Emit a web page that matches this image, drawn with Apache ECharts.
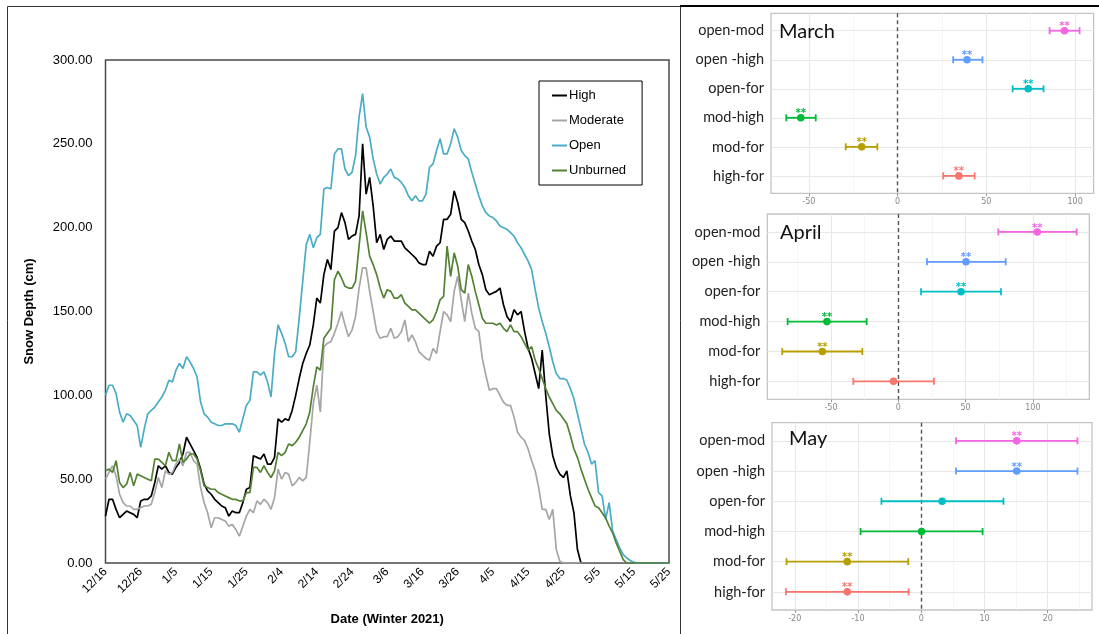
<!DOCTYPE html>
<html><head><meta charset="utf-8">
<script src="https://cdn.jsdelivr.net/npm/echarts@6/dist/echarts.min.js"></script>
<style>html,body{margin:0;padding:0;background:#fff}#c{width:1099px;height:634px}</style>
</head><body><div id="c"></div>
<script>
// ---------- Left chart data (daily, 12/16 .. 5/25) ----------
const tickLabels = ['12/16','12/26','1/5','1/15','1/25','2/4','2/14','2/24','3/6','3/16','3/26','4/5','4/15','4/25','5/5','5/15','5/25'];
const seriesNames = ['High','Moderate','Open','Unburned'];
const high = [
28,38,38,32,27,29,31,30,29,27,
37,38,38,40,48,58,56,58,54,53,
57,60,65,75,71,67,63,56,47,43,
41,38,36,34,33,28,31,30,30,36,
44,45,64,63,62,65,59,59,63,86,
84,86,85,91,100,110,119,125,130,142,
158,155,172,181,175,198,200,209,203,193,
195,196,207,250,220,230,213,191,196,187,
193,195,192,192,192,188,186,184,182,179,
178,178,186,183,189,191,205,205,208,222,
215,205,203,198,192,187,178,172,163,160,
161,162,164,154,147,144,151,148,150,138,
128,122,113,104,127,100,77,64,57,53,
51,55,40,30,8,0,0,0,0,0,
0,0,0,0,0,0,0,0,0,0,
0,0,0,0,0,0,0,0,0,0,0];
const moderate = [
50,54,58,52,41,36,34,34,32,32,
33,34,34,35,42,51,45,55,53,54,
59,62,58,66,66,61,59,45,36,30,
21,27,27,26,25,22,23,20,16,22,
28,32,30,37,35,38,36,32,39,56,
50,54,53,46,48,51,49,51,72,95,
106,90,129,131,132,137,143,150,142,135,
139,147,164,176,176,162,150,138,134,135,
135,140,134,135,138,145,132,136,132,126,
124,122,121,128,125,138,150,148,144,162,
171,157,144,161,149,140,138,122,112,103,
104,104,100,96,94,94,87,78,75,73,
68,61,55,45,32,32,26,32,8,1,
0,0,0,0,0,0,0,0,0,0,
0,0,0,0,0,0,0,0,0,0,
0,0,0,0,0,0,0,0,0,0,0];
const open = [
100,106,106,101,90,84,89,88,85,82,
69,80,89,91,93,96,99,103,109,108,
115,119,116,123,120,116,111,96,89,87,
84,83,82,82,83,83,83,82,78,86,
94,97,114,114,112,114,108,99,125,142,
137,131,123,123,126,146,168,190,196,188,
194,196,223,224,223,244,247,247,235,231,
233,243,266,280,260,254,241,232,226,230,
232,235,230,229,227,224,219,216,219,216,
216,220,236,238,246,253,244,244,250,259,
254,246,243,241,233,226,219,213,209,207,
206,204,201,200,199,197,195,191,188,184,
180,175,163,152,144,137,129,120,113,110,
110,109,104,98,89,80,71,66,59,61,
42,40,26,36,19,14,9,5,3,1.5,
0.5,0,0,0,0,0,0,0,0,0,0];
const unburned = [
55,56,54,61,48,45,47,54,46,53,
52,51,50,49,62,62,60,58,66,61,
61,71,60,62,65,65,62,55,46,45,
44,44,42,41,40,39,38,38,37,37,
42,42,57,57,54,58,54,51,55,66,
64,66,71,70,72,75,79,83,90,105,
117,115,134,137,140,169,174,170,165,164,
164,168,189,210,197,183,178,172,164,158,
163,162,158,158,160,155,153,151,151,149,
147,145,143,145,150,157,159,189,171,185,
177,163,161,178,171,162,154,146,143,143,
143,142,143,140,138,142,138,138,135,131,
127,129,121,116,110,104,99,95,91,89,
86,83,76,68,63,56,50,44,39,34,
33,30,27,22,18,12,7,2,0,0,
0,0,0,0,0,0,0,0,0,0,0];
const lineColors = ['#000000','#a6a6a6','#4bacc6','#548235'];

// ---------- Right panels data ----------
const comparisons = ['open-mod','open -high','open-for','mod-high','mod-for','high-for'];
const compColors = ['#F564E3','#619CFF','#00BFC4','#00BA38','#B79F00','#F8766D'];
const panelTitles = ['March','April','May'];
const marchEst = [94.0, 39.1, 73.6, -54.5, -20.2, 34.5];
const marchLo  = [85.6, 31.3, 64.8, -62.7, -29.2, 25.7];
const marchHi  = [102.5, 47.8, 82.2, -46.1, -11.4, 43.4];
const marchSig = [1,1,1,1,1,1];
const aprilEst = [103.3, 50.3, 46.6, -53.0, -56.4, -3.5];
const aprilLo  = [74.3, 21.3, 16.9, -82.2, -86.2, -33.4];
const aprilHi  = [132.5, 79.8, 76.3, -23.5, -26.7, 26.5];
const aprilSig = [1,1,1,1,1,0];
const mayEst = [15.1, 15.1, 3.3, 0.05, -11.7, -11.7];
const mayLo  = [5.5, 5.5, -6.3, -9.6, -21.3, -21.4];
const mayHi  = [24.7, 24.7, 13.0, 9.7, -2.05, -2.0];
const maySig = [1,1,0,0,1,1];
const marchTicks = [-50,0,50,100], marchMinor = [-25,25,75];
const aprilTicks = [-50,0,50,100], aprilMinor = [-75,-25,25,75,125];
const mayTicks = [-20,-10,0,10,20], mayMinor = [-15,-5,5,15,25];

const panels = [
  {est:marchEst, lo:marchLo, hi:marchHi, sig:marchSig, ticks:marchTicks, minor:marchMinor, min:-71.3, max:110.4, left:771, top:13.3, width:322.6, height:180, title:[779,32]},
  {est:aprilEst, lo:aprilLo, hi:aprilHi, sig:aprilSig, ticks:aprilTicks, minor:aprilMinor, min:-97.3, max:141.9, left:767.3, top:214, width:322, height:185.3, title:[780,233]},
  {est:mayEst, lo:mayLo, hi:mayHi, sig:maySig, ticks:mayTicks, minor:mayMinor, min:-23.6, max:27.0, left:772, top:422.7, width:320, height:187.3, title:[789,439]}
];

const chart = echarts.init(document.getElementById('c'), null, {renderer:'canvas'});

const grids = [{left:105.5, top:60, width:563.5, height:503, show:true, borderColor:'#4a4a4a', borderWidth:1.5, containLabel:false}];
const xAxes = [{
  type:'value', gridIndex:0, min:0, max:160, interval:10,
  axisLine:{show:false}, axisTick:{show:false}, splitLine:{show:false},
  axisLabel:{rotate:45, fontSize:12, color:'#000', fontFamily:'Liberation Sans, Arial', margin:7,
    formatter:v=>tickLabels[Math.round(v/10)]},
  name:'Date (Winter 2021)', nameLocation:'middle', nameGap:50,
  nameTextStyle:{fontWeight:'bold', fontSize:13, color:'#000', fontFamily:'Liberation Sans, Arial'}
}];
const yAxes = [{
  type:'value', gridIndex:0, min:0, max:300, interval:50,
  axisLine:{show:false}, axisTick:{show:false}, splitLine:{show:false},
  axisLabel:{fontSize:13, color:'#000', fontFamily:'Liberation Sans, Arial', margin:13, formatter:v=>v.toFixed(2)},
  name:'Snow Depth (cm)', nameLocation:'middle', nameGap:70, nameRotate:90,
  nameTextStyle:{fontWeight:'bold', fontSize:13, color:'#000', fontFamily:'Liberation Sans, Arial'}
}];
const series = [high, moderate, open, unburned].map((arr,k)=>({
  name:seriesNames[k], type:'line', xAxisIndex:0, yAxisIndex:0,
  data:arr.map((v,i)=>[i,v]), showSymbol:false, symbol:'none',
  lineStyle:{width:1.7, color:lineColors[k]}, itemStyle:{color:lineColors[k]},
  emphasis:{disabled:true}, animation:false, z:2+k
}));

function renderErr(params, api){
  const y = api.value(0), est = api.value(1), lo = api.value(2), hi = api.value(3), sig = api.value(4);
  const c = api.coord([est,y]), a = api.coord([lo,y]), b = api.coord([hi,y]);
  const col = compColors[params.dataIndex];
  const ch = [
    {type:'line', shape:{x1:a[0],y1:a[1],x2:b[0],y2:b[1]}, style:{stroke:col,lineWidth:1.8}},
    {type:'line', shape:{x1:a[0],y1:a[1]-3.5,x2:a[0],y2:a[1]+3.5}, style:{stroke:col,lineWidth:1.8}},
    {type:'line', shape:{x1:b[0],y1:b[1]-3.5,x2:b[0],y2:b[1]+3.5}, style:{stroke:col,lineWidth:1.8}},
    {type:'circle', shape:{cx:c[0],cy:c[1],r:3.8}, style:{fill:col}}
  ];
  if(sig) ch.push({type:'text', x:c[0], y:c[1]-4, style:{text:'**', fill:col, font:'bold 10px DejaVu Sans', align:'center', verticalAlign:'middle'}});
  return {type:'group', children:ch};
}

const graphics = [
  {type:'rect', shape:{x:7.5,y:6.5,width:673,height:640}, style:{fill:null, stroke:'#333', lineWidth:1}, silent:true},
  {type:'line', shape:{x1:680,y1:6,x2:1099,y2:6}, style:{stroke:'#000', lineWidth:2}, silent:true}
];

panels.forEach((p,k)=>{
  const gi = k+1;
  grids.push({left:p.left, top:p.top, width:p.width, height:p.height, show:true, borderColor:'#c4c4c4', borderWidth:1.3, containLabel:false});
  xAxes.push({type:'value', gridIndex:gi, min:p.min, max:p.max,
    axisLine:{show:false}, splitLine:{show:false},
    axisTick:{show:true, length:3, lineStyle:{color:'#999'}, customValues:p.ticks},
    axisLabel:{fontSize:8, color:'#888', margin:5, customValues:p.ticks, fontFamily:'DejaVu Sans'}});
  yAxes.push({type:'value', gridIndex:gi, min:0.4, max:6.6, inverse:true,
    axisLine:{show:false}, splitLine:{show:false},
    axisTick:{show:true, length:3, lineStyle:{color:'#999'}, customValues:[1,2,3,4,5,6]},
    axisLabel:{fontSize:14.5, color:'#222', margin:7, fontFamily:'Lato', customValues:[1,2,3,4,5,6],
      formatter:v=>comparisons[Math.round(v)-1] || ''}});
  const ml = [];
  p.minor.forEach(v=>{ if(v>p.min && v<p.max) ml.push({xAxis:v, lineStyle:{color:'#f4f4f4', width:0.8, type:'solid'}}); });
  p.ticks.forEach(v=>{ if(v!==0) ml.push({xAxis:v, lineStyle:{color:'#e8e8e8', width:1.1, type:'solid'}}); });
  [1,2,3,4,5,6].forEach(v=>ml.push({yAxis:v, lineStyle:{color:'#e8e8e8', width:1.1, type:'solid'}}));
  ml.push({xAxis:0, lineStyle:{color:'#555', width:1.4, type:[4,3]}});
  series.push({type:'line', xAxisIndex:gi, yAxisIndex:gi, data:[], silent:true, animation:false,
    markLine:{silent:true, symbol:['none','none'], label:{show:false}, animation:false, data:ml}, z:1});
  series.push({type:'custom', xAxisIndex:gi, yAxisIndex:gi, renderItem:renderErr, animation:false, z:5,
    encode:{x:[1,2,3], y:0},
    data:p.est.map((e,i)=>[i+1, e, p.lo[i], p.hi[i], p.sig[i]])});
  graphics.push({type:'text', x:p.title[0], y:p.title[1], silent:true, z:10,
    style:{text:panelTitles[k], font:'20px Lato', fill:'#111', verticalAlign:'middle', align:'left'}});
});

chart.setOption({
  animation:false,
  backgroundColor:'#fff',
  grid:grids, xAxis:xAxes, yAxis:yAxes, series:series, graphic:graphics,
  legend:{
    data:seriesNames, orient:'vertical', left:539, top:81,
    padding:[7,16,7,13], itemGap:10, itemWidth:15, itemHeight:2, icon:'rect',
    borderColor:'#000', borderWidth:1, backgroundColor:'#fff',
    textStyle:{fontSize:13, color:'#000', fontFamily:'Liberation Sans, Arial', lineHeight:15, padding:[0,0,0,-3]},
    selectedMode:false
  }
});
</script></body></html>
